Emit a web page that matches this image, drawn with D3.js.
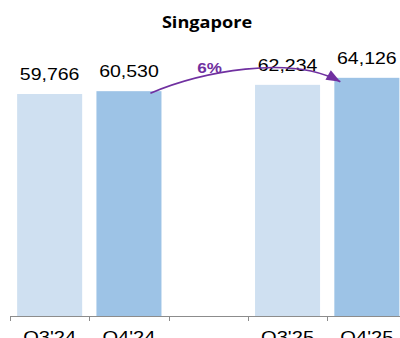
<!DOCTYPE html>
<html>
<head>
<meta charset="utf-8">
<script src="https://cdn.jsdelivr.net/npm/d3@7"></script>
<style>
  html, body { margin: 0; padding: 0; background: #fff; }
  svg { display: block; }
</style>
</head>
<body>
<svg id="chart" width="400" height="338"></svg>
<script>
// Quarterly figures, with an empty spacer slot between the two years
const categories = ["Q3'24", "Q4'24", "", "Q3'25", "Q4'25"];
const values = [59766, 60530, null, 62234, 64126];
const barColors = ["#cfe0f1", "#9dc3e6", null, "#cfe0f1", "#9dc3e6"];
const growthLabel = "6%";

const svg = d3.select("#chart");
const baseline = 316;
const stretch = 1.22; // wide-set lettering

const x = d3.scaleBand()
  .domain(categories.map((c, i) => i))
  .range([10, 406.5])
  .paddingInner(0.18)
  .paddingOuter(0.09);

const y = d3.scaleLinear().domain([0, 70000]).range([baseline, baseline - 260]);

// Text helper: horizontally widened text anchored at (tx, ty)
function wideText(parent, tx, ty, str, opts) {
  const g = parent.append("g")
    .attr("transform", `translate(${tx},${ty}) scale(${opts.sx || stretch},1)`);
  return g.append("text")
    .attr("x", 0).attr("y", 0)
    .attr("text-anchor", "middle")
    .attr("font-family", opts.family || "'Liberation Sans', Arial, sans-serif")
    .attr("font-weight", opts.weight || "normal")
    .attr("font-size", opts.size || 16)
    .attr("fill", opts.fill || "#000")
    .text(str);
}

// Title
wideText(svg, 207, 28, "Singapore",
  { family: "'Open Sans', sans-serif", weight: "bold", size: 15.5, sx: 1.17 });

// Bars
const data = categories.map((c, i) => ({ c, i, v: values[i], color: barColors[i] }))
  .filter(d => d.v != null);

svg.selectAll("rect.bar").data(data).enter().append("rect")
  .attr("class", "bar")
  .attr("x", d => x(d.i))
  .attr("y", d => y(d.v))
  .attr("width", x.bandwidth())
  .attr("height", d => baseline - y(d.v))
  .attr("fill", d => d.color);

// Value labels
data.forEach(d => {
  wideText(svg, x(d.i) + x.bandwidth() / 2, y(d.v) - 14, d3.format(",")(d.v), { size: 16 });
});

// Category axis with ticks on band boundaries
const axisG = svg.append("g");
axisG.append("line")
  .attr("x1", 10).attr("x2", 406.5)
  .attr("y1", baseline + 0.5).attr("y2", baseline + 0.5)
  .attr("stroke", "#8c8c8c").attr("stroke-width", 1);
const edges = categories.map((c, i) => x(i) - x.step() * 0.09).concat([406.5]);
axisG.selectAll("line.tick").data(edges).enter().append("line")
  .attr("class", "tick")
  .attr("x1", d => Math.round(d) + 0.5).attr("x2", d => Math.round(d) + 0.5)
  .attr("y1", baseline).attr("y2", baseline + 5)
  .attr("stroke", "#8c8c8c").attr("stroke-width", 1);
categories.forEach((c, i) => {
  if (c) wideText(axisG, x(i) + x.bandwidth() / 2, baseline + 27, c, { size: 16.5 });
});

// Growth arrow from the top of Q4'24 to the top of Q4'25
const purple = "#7030a0";
const x0 = x(1) + x.bandwidth() * 0.83, y0 = y(values[1]) + 2;
const x1 = x(4) + 6, y1 = y(values[4]) + 4;
const c1x = x0 + 50, c1y = y0 - 21;
const c2x = x1 - 50, c2y = y1 - 28;
const p = d3.path();
p.moveTo(x0, y0);
p.bezierCurveTo(c1x, c1y, c2x, c2y, x1, y1);
svg.append("path")
  .attr("d", p.toString())
  .attr("fill", "none")
  .attr("stroke", purple)
  .attr("stroke-width", 1.6);
// arrow head along the end tangent
const ang = Math.atan2(y1 - c2y, x1 - c2x);
const hl = 14, hw = 5.5;
const bx = x1 - hl * Math.cos(ang), by = y1 - hl * Math.sin(ang);
svg.append("path")
  .attr("d", `M${x1},${y1} L${bx - hw * Math.sin(ang)},${by + hw * Math.cos(ang)} L${bx + hw * Math.sin(ang)},${by - hw * Math.cos(ang)} Z`)
  .attr("fill", purple);

wideText(svg, 209.5, 73, growthLabel,
  { weight: "bold", size: 14, fill: purple });
</script>
</body>
</html>
